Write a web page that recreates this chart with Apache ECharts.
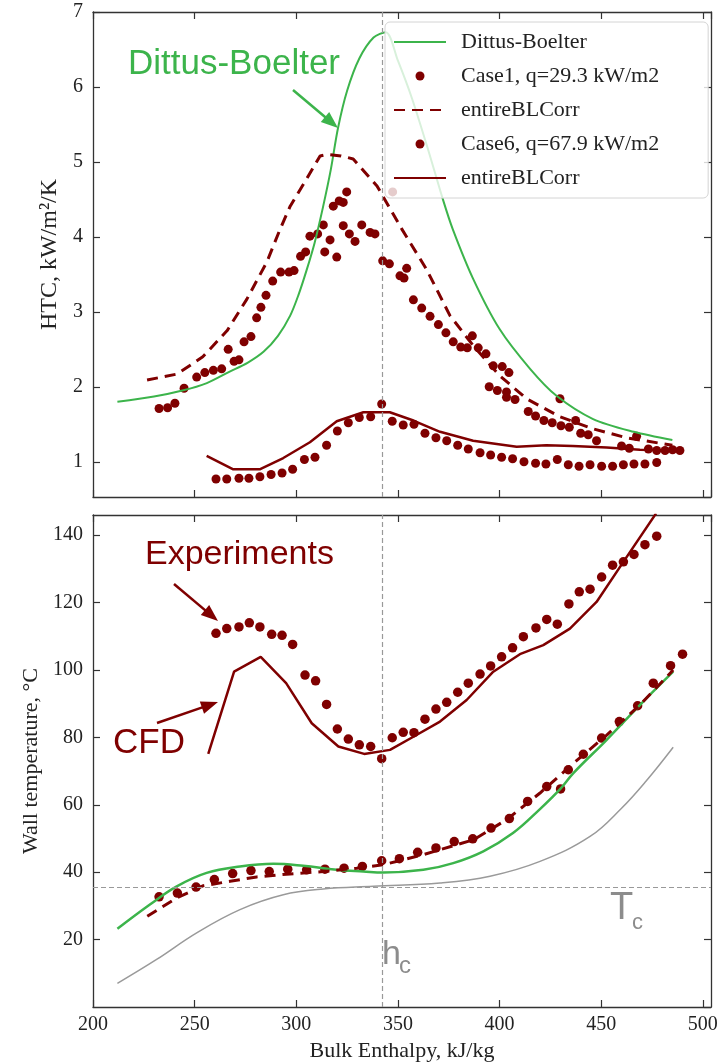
<!DOCTYPE html>
<html>
<head>
<meta charset="utf-8">
<script src="https://cdn.jsdelivr.net/npm/echarts@6/dist/echarts.min.js"></script>
<style>
html, body { margin: 0; padding: 0; background: #fff; }
#chart { width: 722px; height: 1063px; }
</style>
</head>
<body>
<div id="chart"></div>
<script>
// 上图：换热系数 HTC [焓, kW/m2/K]
const dbHtc = [[212,1.80],[230,1.87],[244,1.95],[256,2.05],[267,2.20],[276,2.32],[284,2.47],[291,2.68],[297,2.95],[301,3.22],[305,3.55],[309,3.92],[313,4.38],[317,4.90],[320.5,5.45],[325,5.95],[331,6.38],[338,6.66],[344,6.73],[350,6.35],[357,5.84],[365,5.15],[372,4.51],[377,4.10],[387,3.44],[400,2.77],[415,2.24],[428,1.88],[446,1.57],[466,1.40],[485,1.29]];
const case1Htc = [[232.5,1.71],[236.7,1.72],[240.3,1.78],[244.8,1.98],[251,2.13],[255,2.19],[259.2,2.22],[263.3,2.24],[266.5,2.50],[269.4,2.34],[271.8,2.36],[274.3,2.60],[277.7,2.67],[280.5,2.92],[282.6,3.06],[285.1,3.22],[288.4,3.41],[292.3,3.53],[296.4,3.53],[298.9,3.55],[302.1,3.74],[304.6,3.80],[306.7,4.01],[310.5,4.04],[313.3,4.16],[314,3.80],[316.6,3.96],[318.2,4.41],[319.9,3.73],[321.1,4.48],[323.1,4.46],[323.1,4.15],[324.8,4.60],[326.1,4.04],[328.9,3.94],[332.2,4.16],[336.3,4.06],[338.7,4.04],[342.5,3.68],[345.8,3.64],[347.4,4.60],[351,3.48],[353,3.45],[354.3,3.58],[357.6,3.16],[361.7,3.05],[365.8,2.94],[369.9,2.83],[373.6,2.72],[377.2,2.60],[380.9,2.53],[384.1,2.52],[386.6,2.68],[389.5,2.52],[393.3,2.44],[394.9,2.00],[396.9,2.28],[398.9,1.95],[401.3,2.27],[403.4,1.93],[403.4,1.86],[404.6,2.19],[407.6,1.83],[414.1,1.67],[417.7,1.61],[421.8,1.55],[425.9,1.52],[429.7,1.84],[430.2,1.48],[434.3,1.46],[437.4,1.55],[439.9,1.38],[443.6,1.36],[447.7,1.28],[460,1.21],[463.8,1.18],[467.4,1.34],[473.2,1.17],[477.3,1.15],[481.4,1.15],[485.1,1.16],[488.7,1.15]];
const case1CorrHtc = [[226.6,2.09],[241.3,2.17],[254,2.40],[266,2.75],[275.7,3.17],[285.6,3.67],[292,4.10],[297,4.41],[305,4.77],[311.7,5.08],[315,5.10],[322,5.08],[328,5.04],[339.7,4.68],[352,4.10],[364,3.57],[375.6,2.95],[387,2.55],[400,2.15],[413.3,1.84],[429.7,1.60],[446,1.44],[462.5,1.32],[485,1.22]];
const case6Htc = [[260.5,0.77],[265.8,0.77],[271.8,0.78],[276.7,0.78],[282.1,0.80],[287.6,0.83],[293,0.85],[298.2,0.90],[304,1.03],[309.2,1.06],[314.9,1.22],[320.2,1.41],[325.6,1.52],[331,1.59],[336.6,1.60],[342,1.77],[347.2,1.54],[352.6,1.49],[357.9,1.50],[363.3,1.38],[368.7,1.32],[374,1.28],[379.4,1.22],[384.6,1.17],[390.4,1.12],[395.6,1.09],[401,1.06],[406.4,1.04],[412,1.00],[417.7,0.98],[422.8,0.97],[428.4,1.03],[433.8,0.96],[439.1,0.94],[444.5,0.96],[450.2,0.94],[455.6,0.94],[460.9,0.96],[466.1,0.97],[471.5,0.97],[477.3,0.99]];
const case6CorrHtc = [[255.9,1.08],[269,0.90],[282,0.90],[293.6,1.05],[306.7,1.26],[319.9,1.54],[333,1.66],[346,1.66],[357.6,1.55],[370.7,1.40],[387,1.28],[408.4,1.20],[423,1.22],[436,1.21],[452.7,1.19],[469,1.16],[485.4,1.15]];

// 下图：壁温 [焓, C]
const dbTw = [[212,23.2],[228,30.4],[241.2,35.8],[255.9,39.8],[272.3,41.7],[288.7,42.5],[303.4,41.9],[319.9,40.7],[333,40.2],[342.8,39.9],[362.5,40.7],[377.2,42.7],[392,46.2],[406.6,51.6],[420,58.8],[430,64.8],[436.3,69.4],[452.7,79.3],[469,89.6],[485.4,99.5]];
const bulkT = [[212,7.0],[231.3,14.1],[251,22.0],[272.3,28.9],[293.6,33.3],[313.3,35.0],[337.9,35.8],[370.7,36.8],[395.3,38.8],[419.9,43.2],[444.5,50.6],[460,59],[472,67],[485.4,77.1]];
const case1Tw = [[232.5,32.7],[241.5,33.8],[250.7,35.6],[259.7,37.8],[268.7,39.6],[277.7,40.5],[286.7,40.2],[295.8,40.9],[305.1,40.7],[314.1,40.9],[323.5,41.2],[332.5,41.7],[342,43.4],[350.7,44.0],[359.7,45.9],[368.7,47.2],[377.7,49.1],[386.8,49.9],[395.8,53.1],[404.8,55.9],[413.8,61.0],[423.2,65.4],[430,64.7],[433.8,70.4],[441.2,75.0],[450.2,79.8],[458.9,84.7],[467.9,89.4],[475.6,96.1],[484.1,101.3],[490,104.7]];
const case1CfdTw = [[226.7,26.9],[241.2,32.4],[254.3,36.0],[267.4,37.3],[280.5,38.6],[296.9,39.5],[313.3,40.2],[329.7,41.2],[342.8,42.2],[362.5,45.2],[387.1,49.6],[403.5,55.6],[419.9,63.5],[436.3,72.3],[452.7,80.7],[469,89.6],[485.4,100]];
const case6Tw = [[260.5,110.9],[265.8,112.3],[271.8,112.8],[276.9,114.0],[282.1,112.8],[287.9,110.6],[293,110.3],[298.2,107.6],[304.3,98.5],[309.5,96.8],[314.9,89.8],[320.2,82.5],[325.6,79.5],[331,77.8],[336.6,77.3],[342,73.7],[347.2,79.9],[352.6,81.5],[357.9,81.4],[363.3,85.4],[368.7,88.4],[374,90.4],[379.4,93.4],[384.6,96.1],[390.4,98.8],[395.6,101.2],[401,103.9],[406.4,106.6],[411.7,109.9],[417.9,112.5],[423.2,115.0],[428.4,113.6],[434.1,119.6],[439.2,123.2],[444.5,124.0],[450.2,127.6],[455.6,131.1],[460.9,132.1],[466.1,134.3],[471.5,137.2],[477.3,139.7]];
const case6CfdTw = [[256.7,75.1],[269.4,99.5],[282.5,103.9],[295,96.1],[307.6,84.2],[320.7,77.3],[333.4,75.1],[346.1,76.3],[357.6,80.2],[370.7,84.7],[383.8,91.1],[396.9,99.5],[410,104.7],[421.5,107.4],[434.6,112.3],[447.7,120.2],[460.9,132.1],[477,146.5]];

const hCrit = 342.5;  // h_c
const tCrit = 35.5;   // T_c

const GREEN = '#3cb44b';
const RED = '#7f0000';
const GRAY = '#8c8c8c';
const AX = '#333';
const SERIF = '"Liberation Serif", "DejaVu Serif", serif';
const SANS = '"Liberation Sans", Arial, sans-serif';

let myChart = echarts.init(document.getElementById('chart'), null, { renderer: 'canvas' });

// 坐标轴（四边框 + 内向刻度）
function xAx(grid, pos, showLabel) {
    let a = {
        gridIndex: grid, type: 'value', position: pos,
        min: 200, max: 504, interval: 50,
        axisLine: { show: true, onZero: false, lineStyle: { color: AX, width: 1.3 } },
        axisTick: { show: true, inside: true, length: 7, lineStyle: { color: AX, width: 1.2 } },
        axisLabel: { show: showLabel, showMaxLabel: false, fontFamily: SERIF, fontSize: 20, color: '#222', margin: 8 },
        splitLine: { show: false }
    };
    if (showLabel) {
        a.name = 'Bulk Enthalpy, kJ/kg';
        a.nameLocation = 'middle';
        a.nameGap = 33;
        a.nameTextStyle = { fontFamily: SERIF, fontSize: 22, color: '#222', verticalAlign: 'top' };
    }
    return a;
}
function yAx(grid, pos, min, max, interval, name, gap, nameSize) {
    let a = {
        gridIndex: grid, type: 'value', position: pos,
        min: min, max: max,
        axisLine: { show: true, onZero: false, lineStyle: { color: AX, width: 1.3 } },
        axisTick: { show: true, inside: true, length: 7, lineStyle: { color: AX, width: 1.2 } },
        axisLabel: { show: !!name, showMinLabel: false, showMaxLabel: grid === 0, fontFamily: SERIF, fontSize: 20, color: '#222', margin: 10 },
        splitLine: { show: false }
    };
    if (interval) a.interval = interval;
    if (name) {
        a.name = name;
        a.nameLocation = 'middle';
        a.nameGap = gap;
        a.nameTextStyle = { fontFamily: SERIF, fontSize: nameSize, color: '#222' };
    }
    return a;
}

function arrow(x1, y1, x2, y2, color) {
    const dx = x2 - x1, dy = y2 - y1, L = Math.hypot(dx, dy), ux = dx / L, uy = dy / L;
    const hl = 17, hw = 6.5;
    const bx = x2 - ux * hl, by = y2 - uy * hl;
    return [
        { type: 'line', shape: { x1: x1, y1: y1, x2: bx + ux * 2, y2: by + uy * 2 }, style: { stroke: color, lineWidth: 2.5 } },
        { type: 'polygon', shape: { points: [[x2, y2], [bx - uy * hw, by + ux * hw], [bx + uy * hw, by - ux * hw]] }, style: { fill: color } }
    ];
}

const refLine = { color: '#999', type: [5, 3], width: 1.2 };
const noDot = { opacity: 0 };

let option = {
    animation: false,
    backgroundColor: '#fff',
    grid: [
        { left: 93, top: 12, width: 618, height: 485 },
        { left: 93, top: 515, width: 618, height: 492 }
    ],
    xAxis: [xAx(0, 'bottom', false), xAx(0, 'top', false), xAx(1, 'bottom', true), xAx(1, 'top', false)],
    yAxis: [
        yAx(0, 'left', 0.53, 7, null, 'HTC, kW/m²/K', 30, 24),
        yAx(0, 'right', 0.53, 7, null, null),
        yAx(1, 'left', 0, 146, 20, 'Wall temperature, °C', 51, 22),
        yAx(1, 'right', 0, 146, 20, null)
    ],
    legend: {
        data: [
            { name: 'Dittus-Boelter', itemStyle: noDot },
            { name: 'Case1, q=29.3 kW/m2', icon: 'circle' },
            { name: 'entireBLCorr', itemStyle: noDot },
            { name: 'Case6, q=67.9 kW/m2', icon: 'circle' },
            { name: 'entireBLCorr6', itemStyle: noDot }
        ],
        formatter: function (n) { return n === 'entireBLCorr6' ? 'entireBLCorr' : n; },
        orient: 'vertical', left: 385, top: 22,
        itemWidth: 52, itemHeight: 9, itemGap: 12,
        padding: [9, 49, 9, 8],
        backgroundColor: 'rgba(255,255,255,0.8)',
        borderColor: '#d4d4d4', borderWidth: 1, borderRadius: 5,
        selectedMode: false,
        textStyle: { fontFamily: SERIF, fontSize: 22, color: '#222', padding: [0, 0, 0, 10] }
    },
    series: [
        {
            name: 'Dittus-Boelter', type: 'line', xAxisIndex: 0, yAxisIndex: 0, data: dbHtc,
            symbol: 'none', smooth: 0.3, lineStyle: { color: GREEN, width: 2 }, itemStyle: { color: GREEN },
            markLine: { silent: true, symbol: ['none', 'none'], label: { show: false }, lineStyle: refLine, data: [{ xAxis: hCrit }] }
        },
        {
            name: 'Case1, q=29.3 kW/m2', type: 'scatter', xAxisIndex: 0, yAxisIndex: 0, data: case1Htc,
            symbol: 'circle', symbolSize: 9, itemStyle: { color: RED, opacity: 1 }
        },
        {
            name: 'entireBLCorr', type: 'line', xAxisIndex: 0, yAxisIndex: 0, data: case1CorrHtc,
            symbol: 'none', lineStyle: { color: RED, width: 3, type: [11, 7] }, itemStyle: { color: RED }
        },
        {
            name: 'Case6, q=67.9 kW/m2', type: 'scatter', xAxisIndex: 0, yAxisIndex: 0, data: case6Htc,
            symbol: 'circle', symbolSize: 9, itemStyle: { color: RED, opacity: 1 }
        },
        {
            name: 'entireBLCorr6', type: 'line', xAxisIndex: 0, yAxisIndex: 0, data: case6CorrHtc,
            symbol: 'none', lineStyle: { color: RED, width: 2.5 }, itemStyle: { color: RED }
        },
        // 下图
        {
            name: 'bulk temperature', type: 'line', xAxisIndex: 2, yAxisIndex: 2, data: bulkT,
            symbol: 'none', smooth: 0.4, lineStyle: { color: '#9a9a9a', width: 1.5 },
            markLine: { silent: true, symbol: ['none', 'none'], label: { show: false }, lineStyle: refLine, data: [{ xAxis: hCrit }, { yAxis: tCrit }] }
        },
        {
            name: 'Tw Dittus-Boelter', type: 'line', xAxisIndex: 2, yAxisIndex: 2, data: dbTw,
            symbol: 'none', smooth: 0.4, lineStyle: { color: GREEN, width: 2.5 }
        },
        {
            name: 'Tw case1 CFD', type: 'line', xAxisIndex: 2, yAxisIndex: 2, data: case1CfdTw,
            symbol: 'none', lineStyle: { color: RED, width: 3, type: [11, 7] }
        },
        {
            name: 'Tw case6 CFD', type: 'line', xAxisIndex: 2, yAxisIndex: 2, data: case6CfdTw,
            symbol: 'none', clip: true, lineStyle: { color: RED, width: 2.5 }
        },
        {
            name: 'Tw case1 exp', type: 'scatter', xAxisIndex: 2, yAxisIndex: 2, data: case1Tw,
            symbolSize: 9.5, itemStyle: { color: RED, opacity: 1 }
        },
        {
            name: 'Tw case6 exp', type: 'scatter', xAxisIndex: 2, yAxisIndex: 2, data: case6Tw,
            symbolSize: 9.5, itemStyle: { color: RED, opacity: 1 }
        }
    ],
    graphic: [
        { type: 'text', x: 128, y: 64, style: { text: 'Dittus-Boelter', font: '35px ' + SANS, fill: GREEN, verticalAlign: 'middle' } },
        { type: 'text', x: 145, y: 555, style: { text: 'Experiments', font: '34px ' + SANS, fill: RED, verticalAlign: 'middle' } },
        { type: 'text', x: 113, y: 743, style: { text: 'CFD', font: '35px ' + SANS, fill: RED, verticalAlign: 'middle' } },
        { type: 'text', x: 382, y: 955, style: { text: 'h', font: '34px ' + SANS, fill: GRAY, verticalAlign: 'middle' } },
        { type: 'text', x: 399, y: 966, style: { text: 'c', font: '24px ' + SANS, fill: GRAY, verticalAlign: 'middle' } },
        { type: 'text', x: 610, y: 909, style: { text: 'T', font: '38px ' + SANS, fill: GRAY, verticalAlign: 'middle' } },
        { type: 'text', x: 632, y: 923, style: { text: 'c', font: '22px ' + SANS, fill: GRAY, verticalAlign: 'middle' } }
    ].concat(arrow(293, 90, 338, 128, GREEN))
     .concat(arrow(174, 584, 218, 621, RED))
     .concat(arrow(157, 723, 218, 702, RED))
};

myChart.setOption(option);
</script>
</body>
</html>
